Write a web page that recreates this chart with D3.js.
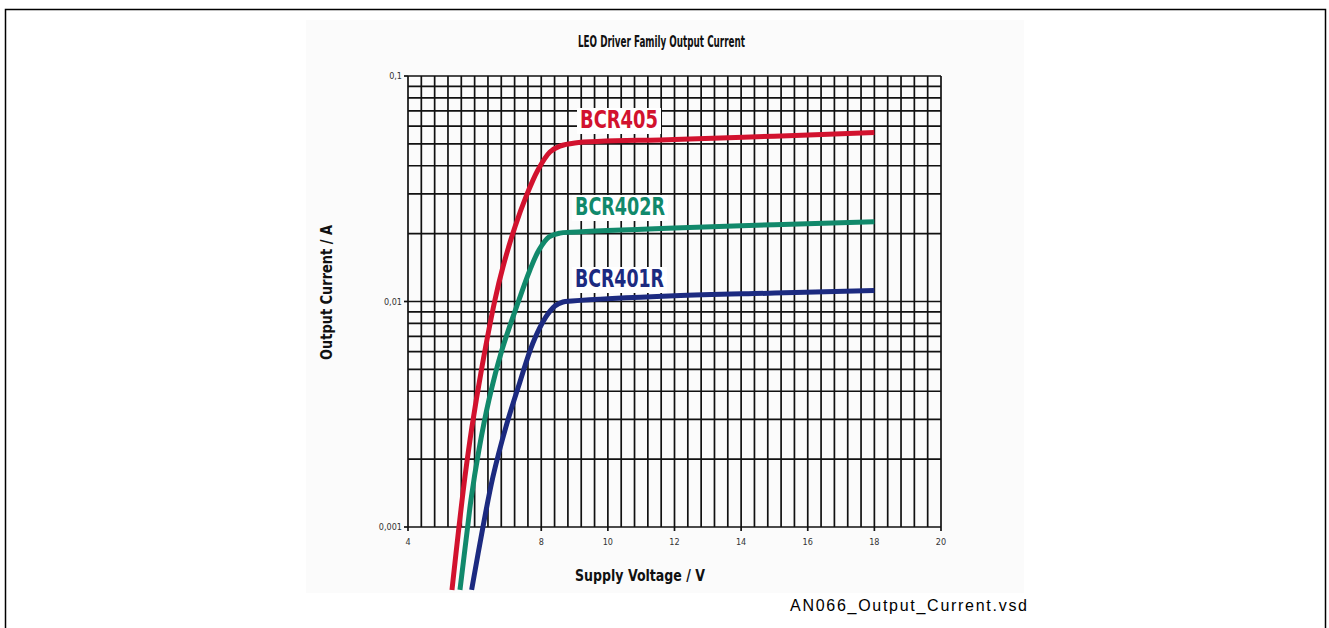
<!DOCTYPE html>
<html>
<head>
<meta charset="utf-8">
<script src="https://cdn.jsdelivr.net/npm/d3@7.9.0/dist/d3.min.js"></script>
<style>
  html, body { margin: 0; padding: 0; background: #fff; }
  svg { display: block; }
</style>
</head>
<body>
<div id="chart"></div>
<script>
// axis ticks (the "6" label is hidden behind the curves)
const xTicks = [4, 8, 10, 12, 14, 16, 18, 20];
const yTicks = [0.001, 0.01, 0.1];
const yTickLabels = ['0,001', '0,01', '0,1'];

// [supply voltage V, output current A]
const bcr405 = [
  [5.32, 0.000526], [5.53, 0.001], [5.71, 0.00167], [5.92, 0.00278], [6.22, 0.00512],
  [6.61, 0.01015], [6.85, 0.01422], [7.21, 0.0214], [7.54, 0.0291], [7.9, 0.0383],
  [8.26, 0.046], [8.56, 0.0489], [9.01, 0.0505], [12, 0.0523], [15, 0.0541], [18, 0.0562]
];
const bcr402r = [
  [5.56, 0.000526], [5.79, 0.001], [5.89, 0.00132], [6.13, 0.0022], [6.43, 0.00366],
  [6.82, 0.00609], [7.33, 0.01015], [7.66, 0.0138], [7.93, 0.0169], [8.23, 0.0193],
  [8.56, 0.0201], [8.92, 0.0203], [12, 0.0212], [15, 0.0219], [18, 0.0226]
];
const bcr401r = [
  [5.91, 0.000526], [6.25, 0.001], [6.55, 0.00167], [6.94, 0.00278], [7.35, 0.00435],
  [7.75, 0.00655], [8.14, 0.00854], [8.41, 0.00955], [8.65, 0.00995], [8.92, 0.01005],
  [12, 0.0106], [15, 0.0109], [18, 0.0112]
];

const seriesNames = ['BCR405', 'BCR402R', 'BCR401R'];
const seriesData = [bcr405, bcr402r, bcr401r];
const seriesColors = ['#d2122e', '#11896b', '#1c2a80'];

const width = 1329;
const height = 628;
const narrow = 'DejaVu Sans Condensed, Liberation Sans Narrow, Arial Narrow, sans-serif';

const svg = d3.select('#chart')
  .append('svg')
  .attr('width', width)
  .attr('height', height);

// page frame
svg.append('path')
  .attr('d', 'M5.5,628 V9.5 H1325.5 V628')
  .attr('fill', 'none')
  .attr('stroke', '#000')
  .attr('stroke-width', 1.5);

// pasted picture background
svg.append('rect')
  .attr('x', 306).attr('y', 20)
  .attr('width', 718).attr('height', 573)
  .attr('fill', '#fbfbfb');

const x = d3.scaleLinear().domain([4, 20]).range([408, 941]);
const y = d3.scaleLog().domain([0.001, 0.1]).range([527, 76]);

// grid
const grid = svg.append('g').attr('stroke', '#111').attr('stroke-width', 1.7);

const vLines = d3.range(0, 41).map(i => 4 + i * 0.4);
grid.selectAll('line.v')
  .data(vLines)
  .join('line')
  .attr('class', 'v')
  .attr('x1', d => x(d)).attr('x2', d => x(d))
  .attr('y1', y(0.1)).attr('y2', y(0.001));

const hLines = [];
[0.001, 0.01].forEach(dec => d3.range(1, 10).forEach(k => hLines.push(k * dec)));
hLines.push(0.1);
grid.selectAll('line.h')
  .data(hLines)
  .join('line')
  .attr('class', 'h')
  .attr('x1', x(4)).attr('x2', x(20))
  .attr('y1', d => y(d)).attr('y2', d => y(d));

// small tick marks
grid.selectAll('line.xt')
  .data(xTicks)
  .join('line')
  .attr('class', 'xt')
  .attr('x1', d => x(d)).attr('x2', d => x(d))
  .attr('y1', y(0.001)).attr('y2', y(0.001) + 4);

grid.selectAll('line.yt')
  .data(yTicks)
  .join('line')
  .attr('class', 'yt')
  .attr('x1', x(4) - 4).attr('x2', x(4))
  .attr('y1', d => y(d)).attr('y2', d => y(d));

// tick labels
svg.append('g')
  .selectAll('text')
  .data(xTicks)
  .join('text')
  .attr('x', d => x(d))
  .attr('y', y(0.001) + 18)
  .attr('text-anchor', 'middle')
  .attr('font-family', narrow)
  .attr('font-size', 9)
  .attr('fill', '#333')
  .text(d => d);

svg.append('g')
  .selectAll('text')
  .data(yTicks)
  .join('text')
  .attr('x', x(4) - 6)
  .attr('y', d => y(d) + 3)
  .attr('text-anchor', 'end')
  .attr('font-family', narrow)
  .attr('font-size', 9)
  .attr('fill', '#333')
  .text((d, i) => yTickLabels[i]);

// curves (not clipped: they run below the axis in the original)
const line = d3.line()
  .x(d => x(d[0]))
  .y(d => y(d[1]))
  .curve(d3.curveCatmullRom.alpha(0.5));

svg.append('g')
  .selectAll('path')
  .data(seriesData)
  .join('path')
  .attr('d', line)
  .attr('fill', 'none')
  .attr('stroke', (d, i) => seriesColors[i])
  .attr('stroke-width', 5)
  .attr('stroke-linecap', 'butt');

// series labels with white boxes
const labelPos = [[580, 128], [575, 215], [575, 287]];
const labelWidth = [78, 90, 89];
const labels = svg.append('g');
seriesNames.forEach((name, i) => {
  const g = labels.append('g');
  const t = g.append('text')
    .attr('x', labelPos[i][0])
    .attr('y', labelPos[i][1])
    .attr('font-family', narrow)
    .attr('font-weight', 'bold')
    .attr('font-size', 24)
    .attr('textLength', labelWidth[i])
    .attr('lengthAdjust', 'spacingAndGlyphs')
    .attr('fill', seriesColors[i])
    .text(name);
  const bb = t.node().getBBox();
  g.insert('rect', 'text')
    .attr('x', labelPos[i][0] - 3).attr('y', bb.y + 2)
    .attr('width', labelWidth[i] + 6).attr('height', bb.height - 2)
    .attr('fill', '#fff');
});

// titles
svg.append('text')
  .attr('x', 578).attr('y', 47)
  .attr('font-family', narrow)
  .attr('font-weight', 'bold')
  .attr('font-size', 15)
  .attr('textLength', 167)
  .attr('lengthAdjust', 'spacingAndGlyphs')
  .attr('fill', '#111')
  .text('LEO Driver Family Output Current');

svg.append('text')
  .attr('x', 575).attr('y', 581)
  .attr('font-family', narrow)
  .attr('font-weight', 'bold')
  .attr('font-size', 16)
  .attr('textLength', 130)
  .attr('lengthAdjust', 'spacingAndGlyphs')
  .attr('fill', '#111')
  .text('Supply Voltage / V');

svg.append('text')
  .attr('transform', 'translate(332,360) rotate(-90)')
  .attr('font-family', narrow)
  .attr('font-weight', 'bold')
  .attr('font-size', 15)
  .attr('textLength', 135)
  .attr('lengthAdjust', 'spacingAndGlyphs')
  .attr('fill', '#111')
  .text('Output Current / A');

svg.append('text')
  .attr('x', 790).attr('y', 611)
  .attr('font-family', 'Liberation Sans, Arial, sans-serif')
  .attr('font-size', 16)
  .attr('textLength', 237)
  .attr('lengthAdjust', 'spacing')
  .attr('fill', '#000')
  .text('AN066_Output_Current.vsd');
</script>
</body>
</html>
